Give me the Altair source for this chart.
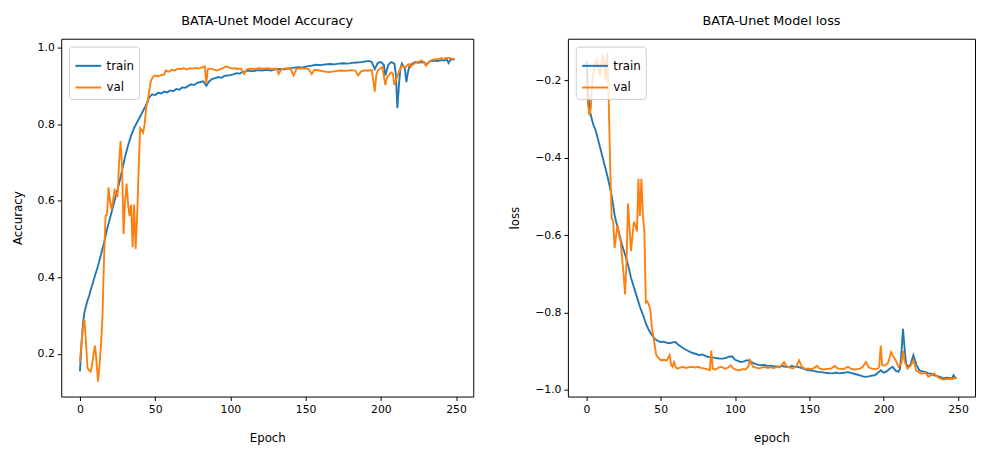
import altair as alt
import pandas as pd

# ---------------- data ----------------
acc_train_ep = [0,1,2,3,4,5,6,7,8,10,12,14,16,18,20,22,24,26,28,30,32,34,36,38,40,42,44,46,48,50,
                52,54,56,58,60,62,64,66,68,70,72,74,76,78,80,82,84,86,88,90,92,94,96,98,100,102,104,106,108,110,
                112,115,118,121,124,127,130,133,136,139,142,145,148,151,154,157,160,163,166,169,172,175,178,181,184,187,190,192,194,196,
                198,200,202,203,205,207,209,210,211,212,213,214,216,217,218,219,221,223,225,227,229,230,232,234,236,238,240,242,244,245,
                246,248,249]
acc_train = [0.155,0.225,0.28,0.31,0.325,0.34,0.35,0.365,0.378,0.405,0.43,0.46,0.49,0.525,0.555,0.585,0.615,0.645,0.68,0.715,
             0.745,0.77,0.79,0.805,0.82,0.835,0.85,0.87,0.878,0.876,0.882,0.88,0.885,0.883,0.888,0.886,0.892,0.89,0.896,0.895,
             0.9,0.904,0.902,0.908,0.91,0.912,0.9,0.912,0.918,0.92,0.923,0.921,0.926,0.927,0.928,0.93,0.933,0.932,0.936,0.938,
             0.94,0.938,0.941,0.94,0.942,0.94,0.943,0.944,0.943,0.946,0.947,0.949,0.948,0.951,0.953,0.955,0.954,0.956,0.957,0.956,
             0.958,0.959,0.958,0.96,0.961,0.962,0.964,0.965,0.962,0.944,0.96,0.962,0.955,0.927,0.955,0.962,0.958,0.93,0.842,0.9,
             0.945,0.958,0.945,0.91,0.935,0.952,0.958,0.962,0.96,0.962,0.961,0.954,0.963,0.965,0.966,0.965,0.967,0.966,0.968,0.96,
             0.967,0.97,0.968]

acc_val_ep = [0,1,2,3,4,5,6,7,8,9,10,11,12,13,14,15,16,17,18,19,20,21,22,23,24,25,26,27,28,29,
              30,31,32,33,34,35,36,37,38,39,40,41,42,43,44,45,46,47,48,49,50,52,54,56,57,59,61,63,65,67,
              69,71,73,75,77,79,81,83,84,85,87,89,91,93,95,97,99,101,103,105,107,109,111,113,116,119,122,125,128,131,
              132,134,137,140,142,144,147,150,152,154,156,159,162,165,168,171,174,177,180,183,185,187,189,192,194,196,197,198,200,201,
              203,204,205,207,208,209,210,212,214,216,218,219,220,222,224,226,227,229,230,232,234,236,238,240,242,244,246,248,249]
acc_val = [0.18,0.23,0.27,0.29,0.23,0.165,0.158,0.154,0.17,0.2,0.222,0.18,0.128,0.17,0.225,0.3,0.45,0.56,0.565,0.635,
           0.6,0.578,0.6,0.628,0.62,0.61,0.7,0.756,0.69,0.513,0.6,0.645,0.59,0.56,0.59,0.479,0.59,0.474,0.56,0.68,
           0.79,0.785,0.778,0.8,0.842,0.86,0.885,0.91,0.92,0.925,0.927,0.925,0.928,0.93,0.94,0.937,0.942,0.94,0.945,0.944,
           0.946,0.943,0.946,0.945,0.947,0.945,0.948,0.951,0.906,0.944,0.945,0.943,0.94,0.943,0.946,0.951,0.948,0.945,0.946,0.944,
           0.945,0.931,0.943,0.945,0.944,0.946,0.945,0.946,0.944,0.945,0.931,0.944,0.946,0.944,0.927,0.945,0.946,0.945,0.944,0.931,
           0.942,0.94,0.938,0.936,0.937,0.939,0.94,0.939,0.941,0.94,0.927,0.938,0.94,0.94,0.941,0.885,0.93,0.94,0.947,0.949,
           0.902,0.92,0.927,0.935,0.932,0.902,0.915,0.936,0.953,0.948,0.955,0.957,0.95,0.958,0.962,0.964,0.966,0.96,0.953,0.962,
           0.968,0.969,0.97,0.972,0.971,0.973,0.972,0.97,0.972]

loss_train_ep = [0,1,2,3,4,5,6,7,8,9,10,11,12,13,14,15,16,17,18,19,20,22,24,26,28,30,32,34,36,38,
                 40,42,44,46,48,50,52,54,56,58,60,62,64,66,68,70,72,74,76,78,80,82,84,86,88,90,92,94,96,98,
                 100,102,104,106,108,110,112,114,116,118,120,122,124,126,128,130,132,134,136,138,140,142,144,146,148,150,152,154,156,158,
                 160,162,164,166,168,170,172,174,176,178,180,182,184,186,188,190,192,194,196,198,200,202,204,206,208,210,211,212,213,214,
                 215,216,218,220,222,224,226,228,230,232,234,236,238,240,242,244,246,247,248,249]
loss_train = [-0.15,-0.22,-0.27,-0.29,-0.305,-0.318,-0.326,-0.34,-0.355,-0.37,-0.385,-0.4,-0.415,-0.43,-0.445,-0.462,-0.48,-0.497,-0.522,-0.548,
              -0.565,-0.595,-0.625,-0.65,-0.676,-0.71,-0.735,-0.76,-0.785,-0.805,-0.828,-0.845,-0.858,-0.868,-0.873,-0.876,-0.875,-0.878,-0.879,-0.877,
              -0.876,-0.884,-0.889,-0.894,-0.898,-0.902,-0.905,-0.907,-0.91,-0.908,-0.912,-0.915,-0.914,-0.917,-0.918,-0.919,-0.919,-0.917,-0.914,-0.913,
              -0.922,-0.925,-0.928,-0.926,-0.923,-0.925,-0.93,-0.933,-0.935,-0.936,-0.935,-0.938,-0.937,-0.939,-0.939,-0.94,-0.938,-0.94,-0.941,-0.938,
              -0.94,-0.94,-0.942,-0.945,-0.948,-0.949,-0.95,-0.952,-0.953,-0.954,-0.955,-0.956,-0.957,-0.957,-0.955,-0.957,-0.956,-0.955,-0.954,-0.956,
              -0.958,-0.96,-0.962,-0.965,-0.966,-0.965,-0.963,-0.962,-0.956,-0.949,-0.955,-0.952,-0.945,-0.94,-0.95,-0.953,-0.945,-0.9,-0.842,-0.89,
              -0.93,-0.94,-0.935,-0.91,-0.935,-0.949,-0.952,-0.953,-0.957,-0.958,-0.962,-0.964,-0.966,-0.97,-0.968,-0.969,-0.97,-0.962,-0.968,-0.97]

loss_val_ep = [0,1,2,3,4,5,6,7,8,9,10,11,12,13,14,15,16,17,18,19,20,21,22,23,24,25,26,27,28,29,
               30,31,32,33,34,35,36,37,38,39,40,41,42,43,44,45,46,47,48,49,50,52,54,56,57,58,59,60,61,63,
               65,67,69,71,73,75,77,79,81,83,84,85,87,89,91,93,95,97,99,101,103,105,107,109,110,112,114,116,118,120,
               122,124,126,128,130,133,135,137,139,141,143,145,147,149,152,155,157,159,161,163,165,167,169,171,173,176,178,180,182,184,
               186,188,190,192,194,196,197,198,199,201,202,203,205,206,208,210,212,213,214,216,218,220,222,224,226,228,230,232,234,236,
               238,240,242,244,246,248,249]
loss_val = [-0.2,-0.26,-0.29,-0.27,-0.2,-0.172,-0.155,-0.146,-0.165,-0.189,-0.16,-0.134,-0.15,-0.198,-0.128,-0.25,-0.42,-0.556,-0.565,-0.633,
            -0.6,-0.573,-0.6,-0.615,-0.659,-0.7,-0.753,-0.667,-0.518,-0.58,-0.641,-0.6,-0.565,-0.575,-0.59,-0.454,-0.55,-0.454,-0.548,-0.59,
            -0.774,-0.771,-0.78,-0.791,-0.838,-0.86,-0.885,-0.91,-0.915,-0.919,-0.923,-0.922,-0.924,-0.91,-0.935,-0.94,-0.928,-0.94,-0.945,-0.942,
            -0.94,-0.943,-0.941,-0.94,-0.942,-0.94,-0.943,-0.944,-0.946,-0.949,-0.898,-0.945,-0.947,-0.942,-0.94,-0.945,-0.943,-0.936,-0.945,-0.948,
            -0.949,-0.946,-0.947,-0.94,-0.923,-0.94,-0.942,-0.944,-0.942,-0.94,-0.943,-0.941,-0.944,-0.94,-0.942,-0.928,-0.94,-0.942,-0.944,-0.94,
            -0.923,-0.94,-0.945,-0.944,-0.946,-0.938,-0.945,-0.947,-0.946,-0.945,-0.944,-0.938,-0.944,-0.945,-0.946,-0.94,-0.945,-0.947,-0.946,-0.945,
            -0.94,-0.928,-0.942,-0.945,-0.946,-0.945,-0.94,-0.885,-0.936,-0.937,-0.933,-0.93,-0.902,-0.91,-0.923,-0.94,-0.93,-0.898,-0.925,-0.945,
            -0.938,-0.923,-0.95,-0.955,-0.958,-0.955,-0.966,-0.962,-0.957,-0.966,-0.97,-0.973,-0.972,-0.971,-0.972,-0.97,-0.97]

series_names = ["train", "val"]
series_colors = ["#1f77b4", "#ff7f0e"]
x_ticks = [0, 50, 100, 150, 200, 250]

# ---------------- frames ----------------
acc_df = pd.concat([
    pd.DataFrame({"epoch": acc_train_ep, "value": acc_train, "series": "train"}),
    pd.DataFrame({"epoch": acc_val_ep, "value": acc_val, "series": "val"}),
])
loss_df = pd.concat([
    pd.DataFrame({"epoch": loss_train_ep, "value": loss_train, "series": "train"}),
    pd.DataFrame({"epoch": loss_val_ep, "value": loss_val, "series": "val"}),
])

FONT = "DejaVu Sans"


def legend():
    return alt.Legend(
        title=None, orient="top-left", offset=8, padding=5,
        symbolType="stroke", symbolSize=680, symbolStrokeWidth=2,
        labelFontSize=12, labelFont=FONT, labelColor="black",
        fillColor="rgba(255,255,255,0.8)", strokeColor="#cccccc", cornerRadius=3,
        rowPadding=1, labelOffset=4,
    )


def panel(df, title, xtitle, ytitle, ydomain, yticks, w, h):
    return alt.Chart(df, title=alt.Title(title)).mark_line(strokeWidth=1.9, clip=True).encode(
        x=alt.X("epoch:Q", scale=alt.Scale(domain=[-12.45, 261.45], nice=False, zero=False),
                axis=alt.Axis(values=x_ticks, title=xtitle, format="d")),
        y=alt.Y("value:Q", scale=alt.Scale(domain=ydomain, nice=False, zero=False),
                axis=alt.Axis(values=yticks, title=ytitle, format=".1f")),
        color=alt.Color("series:N", scale=alt.Scale(domain=series_names, range=series_colors),
                        legend=legend()),
    ).properties(width=w, height=h)


left = panel(acc_df, "BATA-Unet Model Accuracy", "Epoch", "Accuracy",
             [0.089, 1.023], [0.2, 0.4, 0.6, 0.8, 1.0], 418, 363)
right = panel(loss_df, "BATA-Unet Model loss", "epoch", "loss",
              [-1.017, -0.092], [-1.0, -0.8, -0.6, -0.4, -0.2], 413, 363)

chart = alt.hconcat(left, right, spacing=34).resolve_scale(color="independent").resolve_legend(
    color="independent"
).properties(
    padding={"left": 3, "top": 3, "right": 0, "bottom": 0}
).configure_view(
    stroke="black", strokeWidth=1
).configure_axis(
    domain=False, grid=False, ticks=True, tickColor="black", tickSize=4,
    labelFont=FONT, labelFontSize=11, labelColor="black", labelPadding=3,
    titleFont=FONT, titleFontSize=12, titleFontWeight="normal", titleColor="black",
).configure_axisY(
    titlePadding=13
).configure_axisX(
    titlePadding=19
).configure_title(
    font=FONT, fontSize=13, fontWeight="normal", color="black", anchor="middle", offset=11
)

chart.save("out.html", embed_options={"renderer": "svg", "actions": False})
